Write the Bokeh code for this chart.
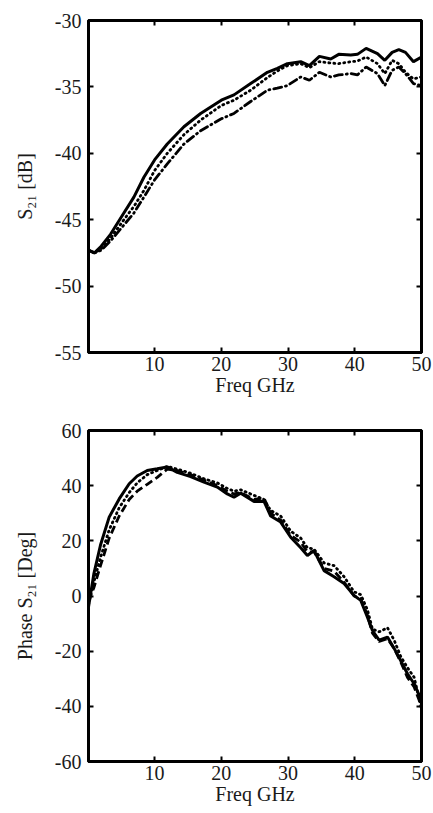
from bokeh.plotting import figure
from bokeh.layouts import column
from bokeh.models import Range1d, LinearAxis, FixedTicker, PrintfTickFormatter
from bokeh.embed import file_html
from bokeh.resources import INLINE

# ---- Top panel: S21 magnitude [dB] ----
f_mag = [0.1, 1.0, 2.0, 3.4, 5.4, 6.9, 8.4, 10.0, 11.9, 14.4, 16.9, 20.0, 21.9, 24.4, 26.9, 28.4,
         29.9, 31.9, 33.2, 34.7, 36.4, 37.6, 39.4, 40.4, 41.7, 43.4, 44.5, 45.6, 46.6, 47.6, 48.8, 50.0]
s21_solid = [-47.3, -47.5, -47.0, -46.1, -44.5, -43.3, -41.8, -40.5, -39.3, -38.0, -37.0, -36.0, -35.6,
             -34.75, -33.9, -33.6, -33.25, -33.1, -33.4, -32.7, -32.9, -32.55, -32.6, -32.55, -32.1,
             -32.5, -33.0, -32.4, -32.2, -32.4, -33.1, -32.75]
s21_dotted = [-47.3, -47.5, -47.2, -46.4, -45.0, -44.0, -42.8, -41.3, -40.0, -38.6, -37.5, -36.4, -36.0,
              -35.25, -34.3, -33.8, -33.4, -33.25, -33.55, -33.1, -33.2, -33.25, -33.1, -33.05, -32.75,
              -33.25, -34.0, -33.0, -33.25, -33.9, -34.4, -34.25]
s21_dashdot = [-47.3, -47.5, -47.3, -46.6, -45.4, -44.5, -43.3, -42.0, -40.8, -39.3, -38.3, -37.4, -37.0,
               -36.1, -35.25, -35.1, -34.9, -34.25, -34.5, -33.9, -34.25, -34.1, -34.0, -34.1, -33.5,
               -34.0, -34.9, -33.75, -33.5, -34.0, -34.75, -34.9]

# ---- Bottom panel: phase S21 [deg] ----
f_ph = [0.1, 0.9, 1.9, 3.2, 4.7, 6.2, 7.4, 8.9, 10.4, 11.9, 13.4, 15.4, 17.4, 19.4, 20.9, 21.9, 22.9,
        24.9, 26.4, 27.4, 28.9, 30.4, 31.9, 32.9, 33.9, 35.4, 36.9, 38.4, 39.9, 40.9, 41.9, 42.65,
        43.65, 44.9, 45.9, 46.9, 47.9, 48.9, 50.0]
ph_solid = [-4.0, 8.0, 18.5, 28.6, 35.2, 40.7, 43.5, 45.5, 46.1, 46.8, 44.8, 43.3, 41.3, 39.5, 37.0, 35.8,
            37.3, 34.3, 34.3, 29.0, 26.8, 21.3, 17.5, 14.7, 16.5, 9.2, 7.0, 4.5, 0.2, -1.6, -7.7, -12.5,
            -16.0, -14.9, -19.0, -23.5, -28.2, -31.8, -37.9]
ph_dotted = [-3.0, 5.0, 14.0, 24.0, 32.0, 37.5, 41.0, 44.0, 45.5, 47.0, 46.0, 44.5, 42.5, 41.0, 39.0, 38.0,
             38.5, 36.5, 35.0, 31.0, 29.0, 23.5, 21.0, 17.5, 17.0, 12.0, 11.0, 7.0, 1.5, 0.5, -5.0, -12.0,
             -13.0, -11.5, -16.0, -22.0, -26.0, -29.5, -41.0]
ph_dashed = [-2.0, 3.0, 11.0, 21.0, 29.0, 35.0, 38.0, 40.5, 43.0, 46.0, 45.5, 44.0, 42.0, 40.0, 38.0, 37.0,
             37.5, 35.0, 35.5, 30.0, 27.5, 22.0, 19.5, 16.0, 16.0, 10.0, 9.0, 5.0, 0.0, -1.0, -7.0, -13.5,
             -16.5, -15.5, -19.0, -24.0, -29.5, -33.0, -40.0]

x_ticks = [10, 20, 30, 40, 50]
mag_ticks = [-55, -50, -45, -40, -35, -30]
ph_ticks = [-60, -40, -20, 0, 20, 40, 60]

FONT = "Liberation Serif"
TXT = "#1a1a1a"


def style(p, yticks):
    p.outline_line_color = "black"
    p.outline_line_width = 3
    p.background_fill_color = "white"
    p.border_fill_color = "white"
    p.xgrid.visible = False
    p.ygrid.visible = False
    for ax in p.xaxis + p.yaxis:
        ax.axis_line_width = 3
        ax.axis_line_color = "black"
        ax.major_tick_in = 5
        ax.major_tick_out = 0
        ax.major_tick_line_width = 2
        ax.minor_tick_line_color = None
        ax.major_label_text_font = FONT
        ax.major_label_text_font_size = "20px"
        ax.major_label_text_color = TXT
        ax.axis_label_text_font = FONT
        ax.axis_label_text_font_size = "20px"
        ax.axis_label_text_font_style = "normal"
        ax.axis_label_text_color = TXT
        ax.formatter = PrintfTickFormatter(format="%d")
    p.xaxis.ticker = FixedTicker(ticks=x_ticks)
    p.yaxis.ticker = FixedTicker(ticks=yticks)
    p.xaxis.major_label_standoff = 4
    p.yaxis.major_label_standoff = 7
    p.xaxis.axis_label_standoff = 0
    p.yaxis.axis_label_standoff = 16
    # mirrored ticks on top/right (labels not drawn)
    top = LinearAxis(ticker=FixedTicker(ticks=x_ticks), major_label_text_color=None,
                     major_label_text_font_size="1px",
                     major_label_standoff=0, major_tick_in=5, major_tick_out=0,
                     major_tick_line_width=2, minor_tick_line_color=None, axis_line_width=3)
    right = LinearAxis(ticker=FixedTicker(ticks=yticks), major_label_text_color=None,
                       major_label_text_font_size="1px",
                       major_label_standoff=0, major_tick_in=5, major_tick_out=0,
                       major_tick_line_width=2, minor_tick_line_color=None, axis_line_width=3)
    p.add_layout(top, "above")
    p.add_layout(right, "right")


p1 = figure(width=433, height=398, output_backend="svg", toolbar_location=None,
            x_range=Range1d(0.1, 50), y_range=Range1d(-55, -30),
            min_border_left=88, min_border_right=12, min_border_top=20, min_border_bottom=45)
p1.line(f_mag, s21_solid, line_color="black", line_width=3)
p1.line(f_mag, s21_dotted, line_color="black", line_width=2.8, line_dash="1 4", line_cap="round")
p1.line(f_mag, s21_dashdot, line_color="black", line_width=2.8, line_dash="8 4 1 4", line_cap="round")
p1.xaxis.axis_label = "Freq GHz"
p1.yaxis.axis_label = "S\u2082\u2081 [dB]"
style(p1, mag_ticks)

p2 = figure(width=433, height=412, output_backend="svg", toolbar_location=None,
            x_range=Range1d(0.1, 50), y_range=Range1d(-60, 60),
            min_border_left=88, min_border_right=10, min_border_top=32, min_border_bottom=49)
p2.line(f_ph, ph_solid, line_color="black", line_width=3)
p2.line(f_ph, ph_dotted, line_color="black", line_width=2.8, line_dash="1 4", line_cap="round")
p2.line(f_ph, ph_dashed, line_color="black", line_width=2.8, line_dash="8 4")
p2.xaxis.axis_label = "Freq GHz"
p2.yaxis.axis_label = "Phase S\u2082\u2081 [Deg]"
style(p2, ph_ticks)

layout = column(p1, p2, spacing=0)
open("out.html", "w").write(file_html(layout, INLINE))
